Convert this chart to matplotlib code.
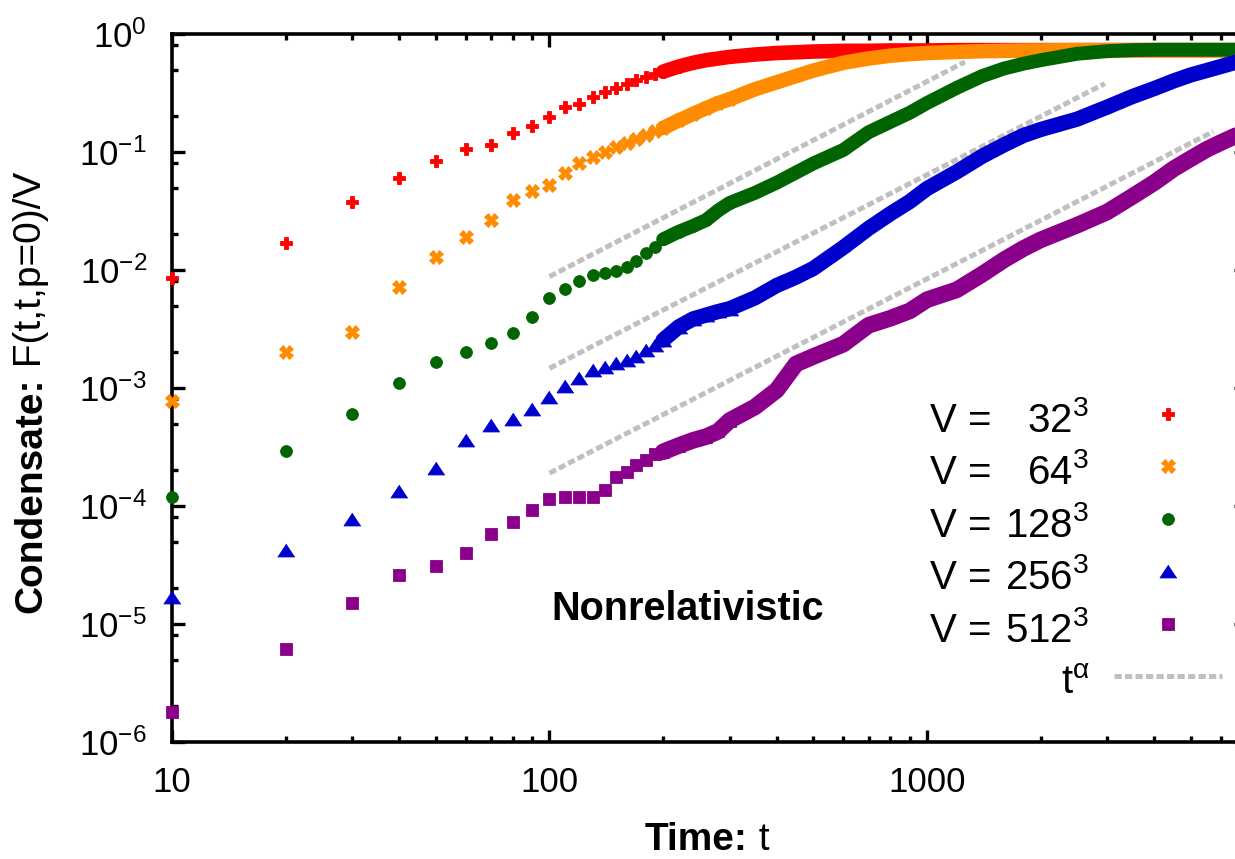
import matplotlib
matplotlib.use("Agg")
import matplotlib.pyplot as plt
import numpy as np
from matplotlib.ticker import FixedLocator, FixedFormatter, LogLocator, NullFormatter
from matplotlib.lines import Line2D

plt.rcParams['font.family'] = ['Liberation Sans', 'DejaVu Sans']
plt.rcParams['mathtext.fontset'] = 'custom'
plt.rcParams['mathtext.rm'] = 'Liberation Sans'
plt.rcParams['mathtext.it'] = 'Liberation Sans:italic'
plt.rcParams['mathtext.bf'] = 'Liberation Sans:bold'
plt.rcParams['axes.unicode_minus'] = False

# ---------------- data ----------------
time = [10, 20, 30, 40, 50, 60, 70, 80, 90, 100,
        110, 120, 130, 140, 150, 160, 170, 180, 190, 200,
        220, 240, 260, 280, 300, 350, 400, 450, 500, 600,
        700, 800, 900, 1000, 1200, 1400, 1600, 1800, 2000, 2500,
        3000, 3500, 4000, 4500, 5000, 5500, 6000, 6500, 7000]

cond_32 = [8.5e-3, 0.0169, 0.0377, 0.060, 0.084, 0.106, 0.115, 0.145, 0.166, 0.198,
           0.24, 0.255, 0.29, 0.32, 0.35, 0.377, 0.41, 0.43, 0.46, 0.48,
           0.53, 0.57, 0.60, 0.62, 0.64, 0.67, 0.69, 0.70, 0.71, 0.72,
           0.72, 0.725, 0.725, 0.725, 0.73, 0.73, 0.73, 0.73, 0.73, 0.73,
           0.73, 0.73, 0.73, 0.73, 0.73, 0.73, 0.73, 0.73, 0.73]

cond_64 = [7.8e-4, 2.0e-3, 3.0e-3, 7.2e-3, 0.0129, 0.019, 0.0265, 0.039, 0.047, 0.0525,
           0.066, 0.081, 0.091, 0.10, 0.11, 0.12, 0.13, 0.14, 0.15, 0.16,
           0.185, 0.21, 0.235, 0.26, 0.28, 0.34, 0.39, 0.44, 0.49, 0.57,
           0.62, 0.655, 0.675, 0.69, 0.705, 0.715, 0.72, 0.725, 0.725, 0.73,
           0.73, 0.73, 0.73, 0.73, 0.73, 0.73, 0.73, 0.73, 0.73]

cond_128 = [1.2e-4, 2.9e-4, 6.0e-4, 1.1e-3, 1.65e-3, 2.0e-3, 2.4e-3, 2.9e-3, 4.0e-3, 5.8e-3,
            6.9e-3, 8.0e-3, 9.0e-3, 9.4e-3, 9.8e-3, 0.0107, 0.012, 0.0138, 0.0158, 0.0182,
            0.0211, 0.0236, 0.0265, 0.032, 0.037, 0.045, 0.055, 0.067, 0.08, 0.104,
            0.147, 0.18, 0.215, 0.26, 0.35, 0.44, 0.51, 0.56, 0.60, 0.68,
            0.715, 0.73, 0.735, 0.735, 0.735, 0.735, 0.735, 0.735, 0.735]

cond_256 = [1.7e-5, 4.2e-5, 7.7e-5, 1.34e-4, 2.1e-4, 3.6e-4, 4.86e-4, 5.5e-4, 6.7e-4, 8.4e-4,
            1.03e-3, 1.21e-3, 1.42e-3, 1.52e-3, 1.62e-3, 1.73e-3, 1.87e-3, 2.1e-3, 2.31e-3, 2.55e-3,
            3.3e-3, 3.85e-3, 4.15e-3, 4.45e-3, 4.7e-3, 5.8e-3, 7.4e-3, 8.7e-3, 0.0103, 0.0155,
            0.0225, 0.030, 0.038, 0.049, 0.068, 0.092, 0.115, 0.138, 0.155, 0.19,
            0.24, 0.295, 0.345, 0.40, 0.45, 0.49, 0.53, 0.57, 0.60]

cond_512 = [1.8e-6, 6.1e-6, 1.5e-5, 2.6e-5, 3.1e-5, 4.0e-5, 5.8e-5, 7.3e-5, 9.3e-5, 1.15e-4,
            1.2e-4, 1.2e-4, 1.2e-4, 1.37e-4, 1.77e-4, 1.95e-4, 2.22e-4, 2.45e-4, 2.74e-4, 2.88e-4,
            3.25e-4, 3.6e-4, 3.87e-4, 4.3e-4, 5.3e-4, 6.9e-4, 9.6e-4, 1.6e-3, 1.85e-3, 2.35e-3,
            3.4e-3, 3.9e-3, 4.5e-3, 5.6e-3, 6.8e-3, 9.2e-3, 0.0122, 0.0152, 0.018, 0.024,
            0.031, 0.042, 0.055, 0.072, 0.088, 0.105, 0.12, 0.135, 0.15]

lattice_sizes = [32, 64, 128, 256, 512]

# guide lines t^alpha (start / end points)
guide_t_start = [100, 100, 100]
guide_t_end = [1260, 2960, 5730]
guide_F_start = [8.8e-3, 1.47e-3, 1.9e-4]
guide_F_end = [0.58, 0.38, 0.149]

x_ticks = [10, 100, 1000]
x_tick_labels = ["10", "100", "1000"]
y_ticks = [1e-6, 1e-5, 1e-4, 1e-3, 1e-2, 1e-1, 1e0]
y_tick_labels = [r"10$^{-6}$", r"10$^{-5}$", r"10$^{-4}$", r"10$^{-3}$",
                 r"10$^{-2}$", r"10$^{-1}$", r"10$^{0}$"]

# ---------------- styles ----------------
series = [cond_32, cond_64, cond_128, cond_256, cond_512]
colors = ['#ff0000', '#ff8c00', '#006400', '#0000cd', '#8b008b']
tri = [(0, 0.76), (-1, -0.76), (1, -0.76)]
markers = ['P', 'X', 'o', tri, 's']
msizes = [9.2, 9.4, 8.5, 12.2, 8.8]
band_lw = [10.5, 10.5, 10.0, 11.0, 12.0]
guide_color = '#c0c0c0'
marker_tmax = 300   # markers drawn individually up to here
band_tmin = 200     # thick band drawn from here on

W, H = 1235, 859
fig = plt.figure(figsize=(W / 100, H / 100), dpi=100)
ax = fig.add_axes([172 / W, (H - 742) / H, (1246 - 172) / W, (742 - 34) / H])
ax.set_xscale('log')
ax.set_yscale('log')
ax.set_xlim(10, 7000)
ax.set_ylim(1e-6, 1)

t_arr = np.array(time, dtype=float)
for vals, col, mk, ms, lw in zip(series, colors, markers, msizes, band_lw):
    v = np.array(vals)
    m_sel = t_arr <= marker_tmax
    b_sel = t_arr >= band_tmin
    ax.plot(t_arr[b_sel], v[b_sel], '-', color=col, lw=lw,
            solid_capstyle='round', solid_joinstyle='round', zorder=3)
    ax.plot(t_arr[m_sel], v[m_sel], linestyle='none', marker=mk, ms=ms,
            mfc=col, mec=col, mew=0.6, color=col, clip_on=False, zorder=3)

for ts, te, fs, fe in zip(guide_t_start, guide_t_end, guide_F_start, guide_F_end):
    ax.plot([ts, te], [fs, fe], color=guide_color, lw=3.6, dashes=(1.45, 0.65),
            dash_capstyle='butt', zorder=2)

# ticks
ax.xaxis.set_major_locator(FixedLocator(x_ticks))
ax.xaxis.set_major_formatter(FixedFormatter(x_tick_labels))
ax.xaxis.set_minor_locator(LogLocator(base=10, subs=np.arange(2, 10), numticks=20))
ax.xaxis.set_minor_formatter(NullFormatter())
ax.yaxis.set_major_locator(FixedLocator(y_ticks))
ax.yaxis.set_major_formatter(FixedFormatter(y_tick_labels))
ax.yaxis.set_minor_locator(LogLocator(base=10, subs=(2, 5, 8), numticks=20))
ax.yaxis.set_minor_formatter(NullFormatter())

ax.tick_params(which='both', direction='in', top=True, right=True, width=2.4,
               labelsize=25)
ax.tick_params(which='major', length=9)
ax.tick_params(which='minor', length=4.5)
ax.tick_params(axis='y', pad=18)
ax.tick_params(axis='x', pad=17)
for s in ax.spines.values():
    s.set_linewidth(2.6)


def fx(px):
    return px / W


def fy(py):
    return 1 - py / H


# axis labels (bold + regular parts)
xl1 = fig.text(fx(645), fy(850), "Time:", fontsize=28, fontweight='bold',
               ha='left', va='baseline')
fig.add_artist(matplotlib.text.Annotation(" t", xy=(1, 0), xycoords=xl1, fontsize=28,
                                          ha='left', va='bottom'))
yl1 = fig.text(fx(31), fy(613), "Condensate:", fontsize=28, fontweight='bold',
               rotation=90, ha='center', va='bottom')
fig.add_artist(matplotlib.text.Annotation(" F(t,t,p=0)/V", xy=(0.5, 1), xycoords=yl1,
                                          fontsize=28, rotation=90, ha='center', va='bottom'))

fig.text(fx(688), fy(620), "Nonrelativistic", fontsize=28.5, fontweight='bold',
         ha='center', va='baseline')

# key
for i, (n, col, mk, ms) in enumerate(zip(lattice_sizes, colors, markers, msizes)):
    base = 431.7 + 52.5 * i
    fig.text(fx(930), fy(base), "V =", fontsize=29, ha='left', va='baseline')
    fig.text(fx(1089), fy(base), f"{n}$^{{3}}$", fontsize=29, ha='right', va='baseline')
    fig.add_artist(Line2D([fx(1168)], [fy(base - 18)], transform=fig.transFigure,
                          linestyle='none', marker=mk, ms=ms, mfc=col, mec=col,
                          mew=0.6))
base = 431.7 + 52.5 * 5
fig.text(fx(1090), fy(base), r"t$^{\mathrm{\alpha}}$", fontsize=29, ha='right', va='baseline')
fig.add_artist(Line2D([fx(1114), fx(1222)], [fy(base - 18)] * 2, transform=fig.transFigure,
                      color=guide_color, lw=3.6, dashes=(1.45, 0.65), dash_capstyle='butt'))

fig.savefig("out.png", dpi=100)
